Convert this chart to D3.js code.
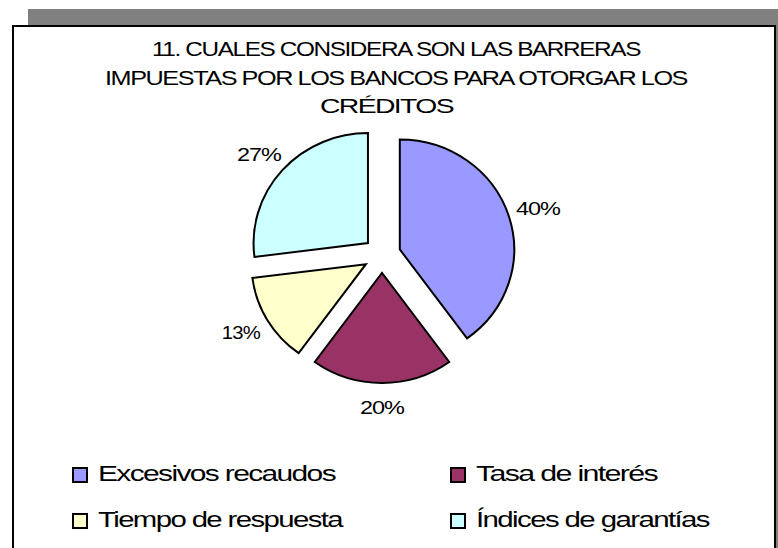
<!DOCTYPE html>
<html><head><meta charset="utf-8">
<script src="https://cdn.jsdelivr.net/npm/d3@7"></script>
<style>
body{margin:0;background:#fff}
svg{display:block}
text{font-family:"Liberation Sans",Arial,sans-serif;fill:#000}
</style>
</head><body>
<svg id="c" width="778" height="548"></svg>
<script>
const titleLines = ["11. CUALES CONSIDERA SON LAS BARRERAS", "IMPUESTAS POR LOS BANCOS PARA OTORGAR LOS", "CRÉDITOS"];
const categories = ["Excesivos recaudos", "Tasa de interés", "Tiempo de respuesta", "Índices de garantías"];
const values = [40, 20, 13, 27];
const pctLabels = ["40%", "20%", "13%", "27%"];
const palette = ["#9999FF", "#993366", "#FFFFCC", "#CCFFFF"];

const svg = d3.select("#c");

// shadow + frame
svg.append("rect").attr("x", 28).attr("y", 9).attr("width", 760).attr("height", 560).attr("fill", "#808080");
svg.append("rect").attr("x", 13).attr("y", 26).attr("width", 762).attr("height", 540)
  .attr("fill", "#fff").attr("stroke", "#000").attr("stroke-width", 2);

// title
const titleLayout = [{x: 152, w: 488, y: 56}, {x: 105, w: 582, y: 85}, {x: 320, w: 133, y: 113}];
svg.append("g").selectAll("text").data(titleLines).join("text")
  .attr("x", (d, i) => titleLayout[i].x)
  .attr("y", (d, i) => titleLayout[i].y)
  .attr("font-size", 21)
  .attr("letter-spacing", -1.2)
  .attr("textLength", (d, i) => titleLayout[i].w)
  .attr("lengthAdjust", "spacingAndGlyphs")
  .text(d => d);

// pie
const color = d3.scaleOrdinal().domain(categories).range(palette);
const data = categories.map((c, i) => ({cat: c, value: values[i], label: pctLabels[i]}));
const pie = d3.pie().value(d => d.value).sort(null).startAngle(0).endAngle(2 * Math.PI);
const R = 110, explode = 18, sx = 1.04;
const cx = 382, cy = 255;
const arc = d3.arc().innerRadius(0).outerRadius(R);
const arcs = pie(data);

const g = svg.append("g").attr("transform", `translate(${cx},${cy}) scale(${sx},1)`);
g.selectAll("path").data(arcs).join("path")
  .attr("d", arc)
  .attr("transform", d => {
    const a = (d.startAngle + d.endAngle) / 2;
    return `translate(${explode * Math.sin(a)},${-explode * Math.cos(a)})`;
  })
  .attr("fill", d => color(d.data.cat))
  .attr("stroke", "#000")
  .attr("stroke-width", 2)
  .attr("stroke-linejoin", "miter")
  .attr("vector-effect", "non-scaling-stroke");

// data labels
const lrx = 164, lry = 152;
const labels = svg.append("g").selectAll("text").data(arcs).join("text")
  .attr("x", d => cx + lrx * Math.sin((d.startAngle + d.endAngle) / 2))
  .attr("y", d => cy - lry * Math.cos((d.startAngle + d.endAngle) / 2))
  .attr("dy", "0.36em")
  .attr("text-anchor", "middle")
  .attr("font-size", 19)
  .attr("letter-spacing", -0.8)
  .text(d => d.data.label);
labels.each(function () {
  const t = d3.select(this);
  const w = t.datum().data.label.startsWith("1") ? 38 : 44;
  t.attr("textLength", w).attr("lengthAdjust", "spacingAndGlyphs");
});

// legend
const legendPos = [{sx: 73, tx: 98, y: 481, w: 237}, {sx: 451, tx: 476, y: 481, w: 181},
                   {sx: 73, tx: 98, y: 527, w: 244}, {sx: 451, tx: 476, y: 527, w: 233}];
const leg = svg.append("g").selectAll("g").data(categories).join("g");
leg.append("rect")
  .attr("x", (d, i) => legendPos[i].sx)
  .attr("y", (d, i) => legendPos[i].y - 13)
  .attr("width", 14).attr("height", 14)
  .attr("fill", d => color(d))
  .attr("stroke", "#000").attr("stroke-width", 2);
leg.append("text")
  .attr("x", (d, i) => legendPos[i].tx)
  .attr("y", (d, i) => legendPos[i].y)
  .attr("font-size", 22)
  .attr("letter-spacing", -1.2)
  .attr("textLength", (d, i) => legendPos[i].w)
  .attr("lengthAdjust", "spacingAndGlyphs")
  .text(d => d);
</script>
</body></html>
